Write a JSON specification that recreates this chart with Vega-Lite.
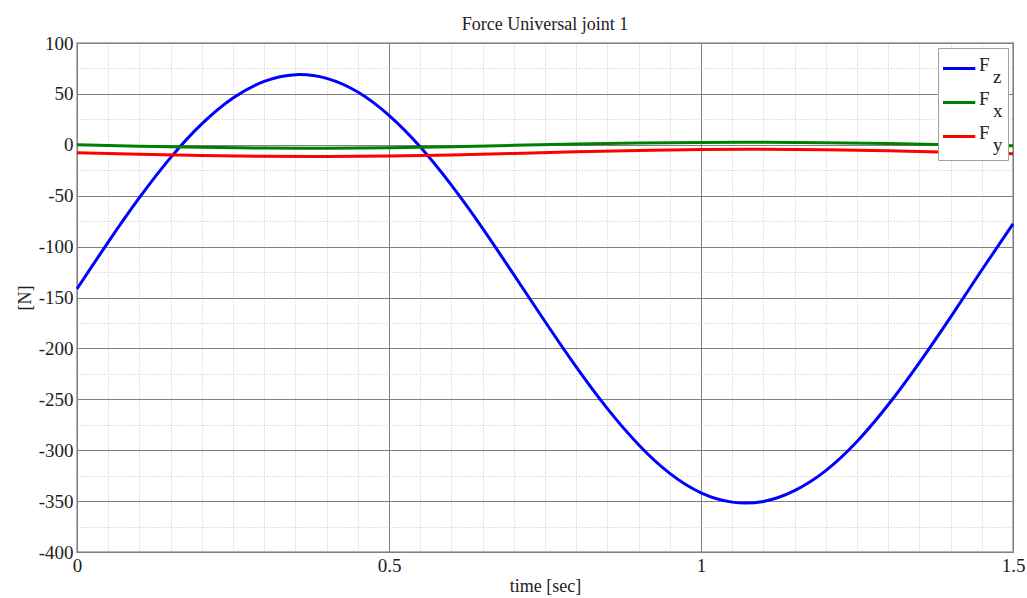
{
  "$schema": "https://vega.github.io/schema/vega-lite/v6.json",
  "width": 936,
  "height": 509,
  "autosize": {"type": "none"},
  "padding": {"left": 77, "top": 43, "right": 14, "bottom": 46},
  "background": "white",
  "title": {
    "text": "Force Universal joint 1",
    "font": "Liberation Serif",
    "fontSize": 18,
    "fontWeight": "normal",
    "color": "#222222",
    "anchor": "middle",
    "frame": "group",
    "baseline": "bottom",
    "offset": 5,
    "dy": 23
  },
  "data": {
    "values": [
      {"t": 0, "series": "Fz", "value": -141.5},
      {"t": 0.05, "series": "Fz", "value": -95.6},
      {"t": 0.1, "series": "Fz", "value": -52.0},
      {"t": 0.15, "series": "Fz", "value": -12.6},
      {"t": 0.2, "series": "Fz", "value": 20.5},
      {"t": 0.25, "series": "Fz", "value": 46.0},
      {"t": 0.3, "series": "Fz", "value": 62.3},
      {"t": 0.35, "series": "Fz", "value": 68.9},
      {"t": 0.4, "series": "Fz", "value": 65.3},
      {"t": 0.45, "series": "Fz", "value": 51.9},
      {"t": 0.5, "series": "Fz", "value": 29.0},
      {"t": 0.55, "series": "Fz", "value": -2.0},
      {"t": 0.6, "series": "Fz", "value": -39.7},
      {"t": 0.65, "series": "Fz", "value": -82.1},
      {"t": 0.7, "series": "Fz", "value": -127.6},
      {"t": 0.75, "series": "Fz", "value": -173.6},
      {"t": 0.8, "series": "Fz", "value": -218.2},
      {"t": 0.85, "series": "Fz", "value": -259.2},
      {"t": 0.9, "series": "Fz", "value": -294.6},
      {"t": 0.95, "series": "Fz", "value": -322.8},
      {"t": 1.0, "series": "Fz", "value": -341.9},
      {"t": 1.05, "series": "Fz", "value": -351.0},
      {"t": 1.1, "series": "Fz", "value": -350.3},
      {"t": 1.15, "series": "Fz", "value": -339.7},
      {"t": 1.2, "series": "Fz", "value": -320.1},
      {"t": 1.25, "series": "Fz", "value": -291.5},
      {"t": 1.3, "series": "Fz", "value": -255.4},
      {"t": 1.35, "series": "Fz", "value": -213.9},
      {"t": 1.4, "series": "Fz", "value": -169.2},
      {"t": 1.45, "series": "Fz", "value": -123.0},
      {"t": 1.5, "series": "Fz", "value": -77.7},
      {"t": 0, "series": "Fx", "value": 0.0},
      {"t": 0.1, "series": "Fx", "value": -1.5},
      {"t": 0.2, "series": "Fx", "value": -2.5},
      {"t": 0.3, "series": "Fx", "value": -3.2},
      {"t": 0.4, "series": "Fx", "value": -3.3},
      {"t": 0.5, "series": "Fx", "value": -2.8},
      {"t": 0.6, "series": "Fx", "value": -1.8},
      {"t": 0.7, "series": "Fx", "value": -0.5},
      {"t": 0.8, "series": "Fx", "value": 0.8},
      {"t": 0.9, "series": "Fx", "value": 1.8},
      {"t": 1.0, "series": "Fx", "value": 2.3},
      {"t": 1.1, "series": "Fx", "value": 2.4},
      {"t": 1.2, "series": "Fx", "value": 2.0},
      {"t": 1.3, "series": "Fx", "value": 1.2},
      {"t": 1.4, "series": "Fx", "value": 0.0},
      {"t": 1.5, "series": "Fx", "value": -1.0},
      {"t": 0, "series": "Fy", "value": -7.8},
      {"t": 0.1, "series": "Fy", "value": -9.3},
      {"t": 0.2, "series": "Fy", "value": -10.5},
      {"t": 0.3, "series": "Fy", "value": -11.3},
      {"t": 0.4, "series": "Fy", "value": -11.5},
      {"t": 0.5, "series": "Fy", "value": -11.0},
      {"t": 0.6, "series": "Fy", "value": -10.0},
      {"t": 0.7, "series": "Fy", "value": -8.5},
      {"t": 0.8, "series": "Fy", "value": -6.9},
      {"t": 0.9, "series": "Fy", "value": -5.5},
      {"t": 1.0, "series": "Fy", "value": -4.6},
      {"t": 1.1, "series": "Fy", "value": -4.4},
      {"t": 1.2, "series": "Fy", "value": -4.9},
      {"t": 1.3, "series": "Fy", "value": -5.9},
      {"t": 1.4, "series": "Fy", "value": -7.3},
      {"t": 1.5, "series": "Fy", "value": -8.8}
    ]
  },
  "mark": {"type": "line", "strokeWidth": 3, "interpolate": "natural"},
  "encoding": {
    "x": {
      "field": "t",
      "type": "quantitative",
      "scale": {"domain": [0, 1.5], "nice": false, "zero": false},
      "axis": {
        "title": "time [sec]",
        "values": [0, 0.05, 0.1, 0.15, 0.2, 0.25, 0.3, 0.35, 0.4, 0.45, 0.5, 0.55, 0.6, 0.65, 0.7, 0.75, 0.8, 0.85, 0.9, 0.95, 1.0, 1.05, 1.1, 1.15, 1.2, 1.25, 1.3, 1.35, 1.4, 1.45, 1.5],
        "labelExpr": "abs(datum.value * 2 - round(datum.value * 2)) < 0.001 ? '' + round(datum.value * 10) / 10 : ''",
        "labelOverlap": false,
        "labelFlush": false,
        "labelBound": false,
        "labelPadding": 4,
        "titlePadding": 2,
        "domain": false,
        "ticks": false,
        "grid": true,
        "gridWidth": 1,
        "gridColor": {"condition": {"test": "abs(datum.value * 2 - round(datum.value * 2)) < 0.001", "value": "#808080"}, "value": "#c4c4c4"},
        "gridDash": {"condition": {"test": "abs(datum.value * 2 - round(datum.value * 2)) < 0.001", "value": []}, "value": [1, 2]}
      }
    },
    "y": {
      "field": "value",
      "type": "quantitative",
      "scale": {"domain": [-400, 100], "nice": false, "zero": false},
      "axis": {
        "title": "[N]",
        "values": [-400, -375, -350, -325, -300, -275, -250, -225, -200, -175, -150, -125, -100, -75, -50, -25, 0, 25, 50, 75, 100],
        "labelExpr": "datum.value % 50 == 0 ? '' + datum.value : ''",
        "labelOverlap": false,
        "labelFlush": false,
        "labelBound": false,
        "labelPadding": 4,
        "titlePadding": 4,
        "domain": false,
        "ticks": false,
        "grid": true,
        "gridWidth": 1,
        "gridColor": {"condition": {"test": "datum.value % 50 == 0", "value": "#808080"}, "value": "#c4c4c4"},
        "gridDash": {"condition": {"test": "datum.value % 50 == 0", "value": []}, "value": [1, 2]}
      }
    },
    "color": {
      "field": "series",
      "type": "nominal",
      "scale": {"domain": ["Fz", "Fx", "Fy"], "range": ["#0000ff", "#008000", "#ff0000"]},
      "legend": {
        "orient": "top-right",
        "offset": 5,
        "title": null,
        "symbolType": "M-1.2,0H1.2",
        "symbolSize": 784,
        "symbolStrokeWidth": 3,
        "symbolFillColor": "transparent",
        "labelFont": "Liberation Serif",
        "labelFontSize": 19,
        "labelColor": "#222222",
        "labelBaseline": "middle",
        "labelOffset": 5,
        "labelLimit": 0,
        "labelExpr": "['F', '\u2800' + substring(datum.label, 1)]",
        "strokeColor": "#a0a0a0",
        "fillColor": "white",
        "padding": 5,
        "rowPadding": 0,
        "clipHeight": 31,
        "encode": {"labels": {"update": {"lineHeight": {"value": 12}, "dy": {"value": -4}}}}
      }
    }
  },
  "config": {
    "view": {"stroke": "#b4b4b4", "strokeWidth": 2},
    "axis": {
      "labelFont": "Liberation Serif",
      "labelFontSize": 19,
      "labelColor": "#222222",
      "titleFont": "Liberation Serif",
      "titleFontSize": 18,
      "titleFontWeight": "normal",
      "titleColor": "#222222"
    }
  }
}
